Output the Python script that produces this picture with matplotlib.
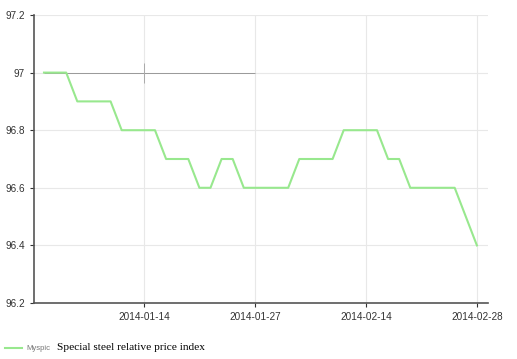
import matplotlib
matplotlib.use('Agg')
import matplotlib.pyplot as plt
from matplotlib.lines import Line2D

# Special steel relative price index (one point per trading day)
index_values = [97.0, 97.0, 97.0, 96.9, 96.9, 96.9, 96.9, 96.8, 96.8, 96.8,
                96.8, 96.7, 96.7, 96.7, 96.6, 96.6, 96.7, 96.7, 96.6, 96.6,
                96.6, 96.6, 96.6, 96.7, 96.7, 96.7, 96.7, 96.8, 96.8, 96.8,
                96.8, 96.7, 96.7, 96.6, 96.6, 96.6, 96.6, 96.6, 96.5, 96.4]
tick_pos = [9, 19, 29, 39]
tick_labels = ["2014-01-14", "2014-01-27", "2014-02-14", "2014-02-28"]
y_ticks = [96.2, 96.4, 96.6, 96.8, 97.0, 97.2]
y_labels = ["96.2", "96.4", "96.6", "96.8", "97", "97.2"]

fig = plt.figure(figsize=(5.17, 3.59), dpi=100)
ax = fig.add_axes([34 / 517, 1 - 303 / 359, (488 - 34) / 517, (303 - 15) / 359])

x = list(range(len(index_values)))
ax.plot(x, index_values, color="#98e88e", linewidth=1.5, zorder=3)

# grey crosshair remnant on the chart
ax.hlines(97.0, 0, 19, color="#999999", linewidth=0.7, zorder=2)
ax.vlines(9, 96.965, 97.035, color="#aaaaaa", linewidth=0.7, zorder=2)

ax.set_xlim(-0.9, 40)
ax.set_ylim(96.2, 97.2)
ax.set_xticks(tick_pos)
ax.set_xticklabels(tick_labels)
ax.set_yticks(y_ticks)
ax.set_yticklabels(y_labels)

ax.grid(True, color="#e8e8e8", linewidth=0.8)
ax.set_axisbelow(True)
for side in ["top", "right"]:
    ax.spines[side].set_visible(False)
for side in ["left", "bottom"]:
    ax.spines[side].set_color("#555555")
    ax.spines[side].set_linewidth(1.2)

ax.tick_params(axis="both", labelsize=7.2, colors="#333333", length=3,
               width=0.8, labelcolor="#333333")
for lbl in ax.get_xticklabels() + ax.get_yticklabels():
    lbl.set_fontfamily("Liberation Sans")

# legend row at the bottom
fig.add_artist(Line2D([5 / 517, 22 / 517], [1 - 348 / 359] * 2,
                      color="#98e88e", linewidth=1.5))
fig.text(26 / 517, 1 - 348 / 359, "Myspic", fontsize=5.5, color="#777777",
         family="Liberation Sans", va="center")
fig.text(57 / 517, 1 - 348 / 359, "Special steel relative price index",
         fontsize=8.2, color="black", family="Liberation Serif", va="center")

fig.savefig("out.png", dpi=100)
